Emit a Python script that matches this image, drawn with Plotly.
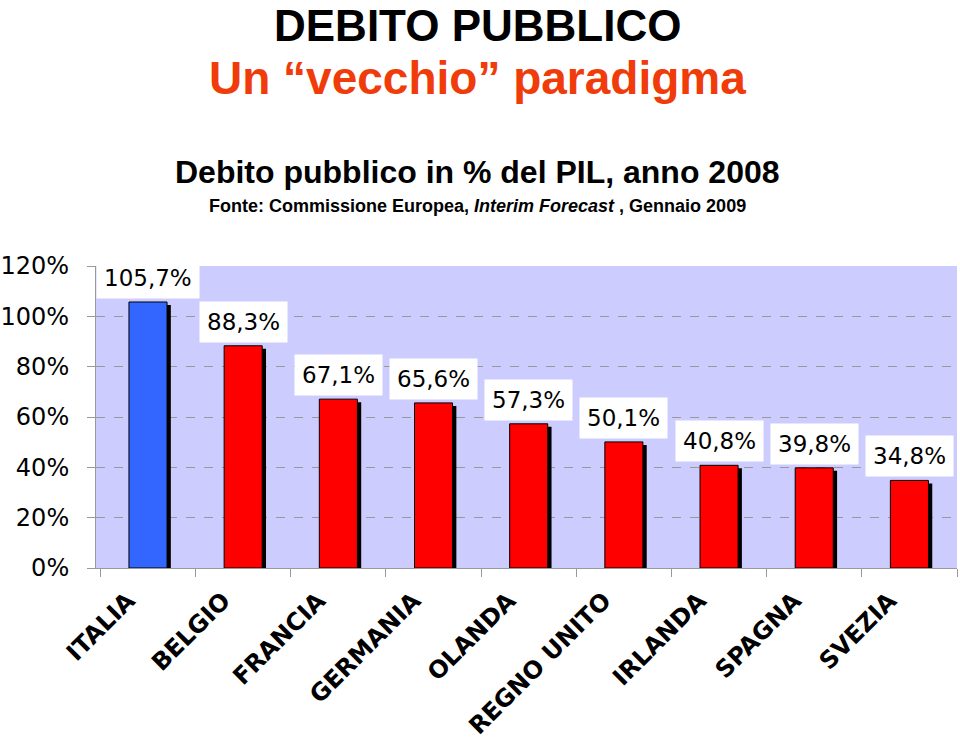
import plotly.graph_objects as go

countries = ["ITALIA", "BELGIO", "FRANCIA", "GERMANIA", "OLANDA",
             "REGNO UNITO", "IRLANDA", "SPAGNA", "SVEZIA"]
debt_pct = [105.7, 88.3, 67.1, 65.6, 57.3, 50.1, 40.8, 39.8, 34.8]
bar_colors = ["#3366FF"] + ["#FF0000"] * 8
y_ticks = [0, 20, 40, 60, 80, 100, 120]
y_tick_text = [f"{v}%" for v in y_ticks]

labels = [f"{v:.1f}".replace(".", ",") + "%" for v in debt_pct]

W, H = 960, 750
ML, MR, MT, MB = 96, 3, 266, 182
pw, ph = W - ML - MR, H - MT - MB

def px(x):
    return (x - ML) / pw

def py(y):
    return (H - MB - y) / ph

fig = go.Figure()
# shadow
fig.add_trace(go.Bar(
    x=countries, y=[v - 1.2 for v in debt_pct],
    width=0.4, offset=-0.16,
    marker=dict(color="#000000", line=dict(width=0)),
    hoverinfo="skip", showlegend=False,
))
fig.add_trace(go.Bar(
    x=countries, y=debt_pct,
    width=0.4, offset=-0.2,
    marker=dict(color=bar_colors, line=dict(color="#000000", width=1)),
    showlegend=False,
))

for c, v, t in zip(countries, debt_pct, labels):
    fig.add_annotation(
        x=c, y=v, xref="x", yref="y", text=t, showarrow=False,
        yshift=24, bgcolor="#FFFFFF", borderpad=7,
        font=dict(family="DejaVu Sans", size=23, color="#000000"),
    )

title_font = "Liberation Sans, Arial, sans-serif"
fig.add_annotation(x=px(477), y=py(25), xref="paper", yref="paper",
                   xanchor="center", yanchor="middle",
                   text="<b>DEBITO PUBBLICO</b>", showarrow=False,
                   font=dict(family=title_font, size=44, color="#000000"))
fig.add_annotation(x=px(477), y=py(78), xref="paper", yref="paper",
                   xanchor="center", yanchor="middle",
                   text="<b>Un “vecchio” paradigma</b>", showarrow=False,
                   font=dict(family=title_font, size=46, color="#F03C0A"))
fig.add_annotation(x=px(477), y=py(172), xref="paper", yref="paper",
                   xanchor="center", yanchor="middle",
                   text="<b>Debito pubblico in % del PIL, anno 2008</b>", showarrow=False,
                   font=dict(family=title_font, size=32, color="#000000"))
fig.add_annotation(x=px(477), y=py(206), xref="paper", yref="paper",
                   xanchor="center", yanchor="middle",
                   text="<b>Fonte: Commissione Europea, <i>Interim Forecast</i> , Gennaio 2009</b>",
                   showarrow=False,
                   font=dict(family=title_font, size=18, color="#000000"))

fig.update_layout(
    width=W, height=H,
    margin=dict(l=ML, r=MR, t=MT, b=MB, autoexpand=False),
    paper_bgcolor="#FFFFFF", plot_bgcolor="#CCCCFF",
    barmode="overlay", bargap=0.6,
    xaxis=dict(
        type="category", tickangle=-45, tickson="boundaries",
        ticks="outside", ticklen=8, tickcolor="#999999",
        showline=True, linecolor="#999999", linewidth=1,
        showgrid=False, ticklabelstandoff=8, ticklabelshift=-20,
        automargin=False,
        tickfont=dict(family="DejaVu Sans", size=24, color="#000000", weight="bold"),
    ),
    yaxis=dict(
        range=[0, 120], tickvals=y_ticks, ticktext=y_tick_text,
        ticks="outside", ticklen=8, tickcolor="#999999",
        showline=True, linecolor="#999999", linewidth=1,
        showgrid=True, gridcolor="#999999", griddash="dash", gridwidth=1,
        zeroline=False, ticklabelstandoff=13, automargin=False,
        tickfont=dict(family="DejaVu Sans", size=24, color="#000000"),
    ),
)

fig.write_html("out.html")
